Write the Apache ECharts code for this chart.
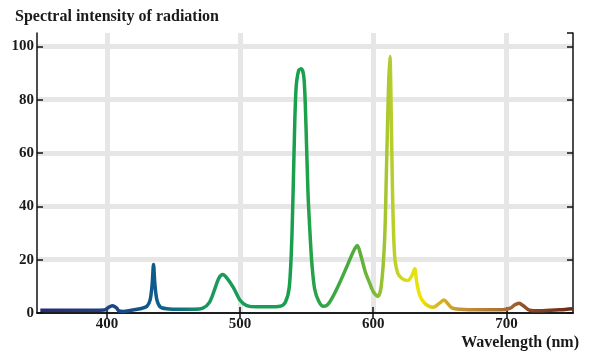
<!DOCTYPE html>
<html>
<head>
<meta charset="utf-8">
<script src="https://cdn.jsdelivr.net/npm/echarts@6/dist/echarts.min.js"></script>
<style>
  html, body { margin: 0; padding: 0; background: #fff; }
  #main { width: 590px; height: 351px; }
</style>
</head>
<body>
<div id="main"></div>
<script>
// wavelength (nm) and relative intensity
var wavelength = [350, 370, 390, 398, 401, 404, 407, 409, 412, 418, 425, 430, 432.5, 434, 435, 436, 437.5, 440, 445, 455,
  465, 472, 477, 481, 484, 487, 490, 495, 500, 505, 512, 522, 530, 534, 537, 539, 540.5, 542, 544, 546,
  548, 549.5, 551, 552.5, 554, 556, 559, 562.5, 566, 572, 580, 585, 588, 591, 594, 597.5, 600, 603.5, 606, 608.5,
  610, 611.5, 612.5, 613.5, 614.5, 616, 618.5, 622, 626, 629, 631.2, 632.5, 635, 639, 645, 650, 653, 656, 659, 665,
  680, 697, 703, 706, 709.5, 713, 717.5, 725, 740, 750];
var intensity = [1.0, 1.0, 1.0, 1.1, 2.0, 2.7, 2.0, 0.8, 0.6, 1.0, 1.6, 2.5, 5, 11, 18.2, 11, 5, 2.3, 1.6, 1.4,
  1.4, 1.8, 4, 9, 13, 14.4, 13.2, 9.5, 4.8, 2.8, 2.3, 2.3, 2.5, 4, 10, 30, 60, 84, 91, 91.6,
  88, 70, 45, 30, 18, 9, 4.5, 2.5, 3.2, 8.4, 17.2, 23, 25.3, 21, 15.5, 11, 8, 6.2, 10, 27,
  55, 85, 96.2, 75, 45, 22, 14.8, 12.8, 12.2, 14, 16.6, 12, 6.5, 3.4, 2.2, 3.8, 4.9, 3.5, 1.9, 1.4,
  1.2, 1.2, 1.8, 3, 3.7, 2.6, 1.0, 0.8, 1.2, 1.6];
var xTicks = [400, 500, 600, 700];
// colour of the curve at given wavelengths
var colorAt = [[350, '#282b74'], [400, '#1f4283'], [435, '#0d5a8c'], [458, '#14727e'], [475, '#189a5e'],
  [545, '#18a04c'], [585, '#4eac3c'], [600, '#7db838'], [612, '#b4cb2c'], [625, '#d8df1c'],
  [635, '#f0e400'], [648, '#d8b420'], [665, '#c59238'], [700, '#a56a34'], [715, '#8c4a26'], [750, '#6a2812']];

var xMin = 347.5, xMax = 750;
var data = wavelength.map(function (w, i) { return [w, intensity[i]]; });
var stops = colorAt.map(function (c) {
  return { offset: (c[0] - wavelength[0]) / (wavelength[wavelength.length - 1] - wavelength[0]), color: c[1] };
});

var serif = 'Liberation Serif';
var lbl = { fontFamily: serif, fontWeight: 'bold', fontSize: 15, color: '#1a1a1a' };
var frame = { show: true, lineStyle: { color: '#111', width: 1.5 } };
var gridStyle = { color: '#e6e6e6', width: 5 };
var tick = { show: true, inside: true, length: 6, lineStyle: { color: '#111', width: 1.5 } };

var chart = echarts.init(document.getElementById('main'));
chart.setOption({
  animation: false,
  title: [{
    text: 'Spectral intensity of radiation', left: 10, top: 4,
    textStyle: { fontFamily: serif, fontWeight: 'bold', fontSize: 16, color: '#1a1a1a' }
  }, {
    text: 'Wavelength (nm)', right: 6, top: 330,
    textStyle: { fontFamily: serif, fontWeight: 'bold', fontSize: 16, color: '#1a1a1a' }
  }],
  grid: { left: 37, right: 17, top: 33, bottom: 38 },
  xAxis: [{
    type: 'value', min: xMin, max: xMax, position: 'bottom',
    axisLine: frame,
    axisTick: Object.assign({ customValues: xTicks }, tick),
    axisLabel: Object.assign({ margin: 4, customValues: xTicks }, lbl),
    splitLine: { show: true, lineStyle: gridStyle }
  }, {
    type: 'value', min: xMin, max: xMax, position: 'top',
    axisLine: frame,
    axisTick: Object.assign({ customValues: xTicks }, tick),
    axisLabel: { show: false },
    splitLine: { show: false }
  }],
  yAxis: [{
    type: 'value', min: 0, max: 105, interval: 20, position: 'left',
    axisLine: frame,
    axisTick: tick,
    axisLabel: Object.assign({ margin: 3, showMaxLabel: false }, lbl),
    splitLine: { show: true, showMinLine: false, showMaxLine: false, lineStyle: gridStyle }
  }, {
    type: 'value', min: 0, max: 105, interval: 20, position: 'right',
    axisLine: frame,
    axisTick: tick,
    axisLabel: { show: false },
    splitLine: { show: false }
  }],
  series: [{
    type: 'line',
    data: data,
    smooth: 0.3,
    showSymbol: false,
    lineStyle: { width: 3.5, color: new echarts.graphic.LinearGradient(0, 0, 1, 0, stops) },
    z: 5
  }]
});
</script>
</body>
</html>
